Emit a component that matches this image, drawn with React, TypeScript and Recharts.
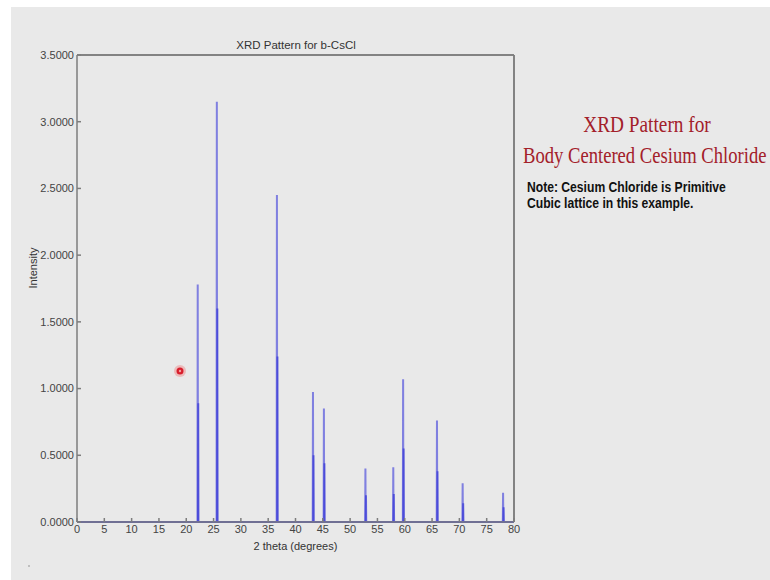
import { LineChart, Line, XAxis, YAxis, ReferenceLine } from 'recharts';

// peak positions (2 theta, degrees) and intensities
const peakTheta = [22.1, 25.6, 36.6, 43.2, 45.2, 52.8, 57.9, 59.7, 65.9, 70.6, 78.0];
const ka1Intensity = [1.78, 3.15, 2.45, 0.975, 0.85, 0.4, 0.41, 1.07, 0.76, 0.29, 0.22];
const ka2Intensity = [0.89, 1.6, 1.24, 0.5, 0.44, 0.2, 0.21, 0.55, 0.38, 0.14, 0.11];

const xTicks = [0, 5, 10, 15, 20, 25, 30, 35, 40, 45, 50, 55, 60, 65, 70, 75, 80];
const yTicks = [0, 0.5, 1.0, 1.5, 2.0, 2.5, 3.0, 3.5];

// each peak is a thin spike sitting on the zero baseline
function profile(theta: number[], heights: number[], shift: number) {
    const pts: { x: number; y: number }[] = [{ x: 0, y: 0 }];
    theta.forEach((t, i) => {
        const c = t + shift;
        pts.push({ x: c - 0.05, y: 0 });
        pts.push({ x: c, y: heights[i] });
        pts.push({ x: c + 0.05, y: 0 });
    });
    pts.push({ x: 80, y: 0 });
    return pts;
}

const ka1Data = profile(peakTheta, ka1Intensity, 0);
const ka2Data = profile(peakTheta, ka2Intensity, 0.1);

const tickFont = { fill: '#444', fontSize: 11, fontFamily: 'Liberation Sans, Arial, sans-serif' };
const frame = '#7d7d7d';

export default function App() {
    return (
        <div style={{ position: 'absolute', left: 0, top: 0, width: 770, height: 580, background: '#fff', overflow: 'hidden' }}>
            <div style={{ position: 'absolute', left: 11, top: 7, right: 0, bottom: 0, background: '#e9e9e9' }} />
            <div style={{ position: 'absolute', left: 0, top: 0 }}>
                <LineChart width={770} height={580} margin={{ top: 54, right: 255, bottom: 28, left: 17 }}>
                    <XAxis
                        type="number"
                        dataKey="x"
                        domain={[0, 80]}
                        ticks={xTicks}
                        allowDataOverflow
                        height={30}
                        tickSize={-4}
                        tickMargin={7}
                        stroke={frame}
                        strokeWidth={1.5}
                        tick={tickFont}
                        label={{ value: '2 theta (degrees)', position: 'insideBottom', offset: 2, fill: '#333', fontSize: 11, fontFamily: 'Liberation Sans, Arial, sans-serif' }}
                    />
                    <XAxis
                        xAxisId="top"
                        orientation="top"
                        type="number"
                        dataKey="x"
                        domain={[0, 80]}
                        ticks={xTicks}
                        height={1}
                        tickSize={-4}
                        tick={false}
                        stroke={frame}
                        strokeWidth={1.5}
                    />
                    <YAxis
                        type="number"
                        domain={[0, 3.5]}
                        ticks={yTicks}
                        width={60}
                        tickSize={-4}
                        tickMargin={7}
                        stroke={frame}
                        strokeWidth={1.5}
                        tick={tickFont}
                        tickFormatter={(v: number) => v.toFixed(4)}
                        label={{ value: 'Intensity', angle: -90, position: 'insideLeft', offset: 16, fill: '#333', fontSize: 11, fontFamily: 'Liberation Sans, Arial, sans-serif' }}
                    />
                    <YAxis
                        yAxisId="right"
                        orientation="right"
                        type="number"
                        domain={[0, 3.5]}
                        ticks={yTicks}
                        width={1}
                        tickSize={-4}
                        tick={false}
                        stroke={frame}
                        strokeWidth={1.5}
                    />
                    <ReferenceLine y={3.5} stroke={frame} strokeWidth={1.5} />
                    <ReferenceLine x={80} stroke={frame} strokeWidth={1.5} />
                    <Line
                        data={ka1Data}
                        dataKey="y"
                        type="linear"
                        stroke="#3b3bdb"
                        strokeOpacity={0.6}
                        strokeWidth={2}
                        dot={false}
                        isAnimationActive={false}
                    />
                    <Line
                        data={ka2Data}
                        dataKey="y"
                        type="linear"
                        stroke="#2a2ad6"
                        strokeOpacity={0.6}
                        strokeWidth={2}
                        dot={false}
                        isAnimationActive={false}
                    />
                </LineChart>
            </div>
            <svg width={770} height={580} style={{ position: 'absolute', left: 0, top: 0, pointerEvents: 'none' }}>
                <text x={296} y={49} textAnchor="middle" fontSize={11.5} fill="#333" fontFamily="Liberation Sans, Arial, sans-serif">
                    XRD Pattern for b-CsCl
                </text>
                <text transform="translate(647,132) scale(0.84,1)" textAnchor="middle" fontSize={23} fill="#a3202a" fontFamily="Liberation Serif, Times New Roman, serif">
                    XRD Pattern for
                </text>
                <text transform="translate(523,163) scale(0.81,1)" fontSize={23} fill="#a3202a" fontFamily="Liberation Serif, Times New Roman, serif">
                    Body Centered Cesium Chloride
                </text>
                <text transform="translate(527,192) scale(0.81,1)" fontSize={15} fontWeight="bold" fill="#111" fontFamily="Liberation Sans, Arial, sans-serif">
                    Note: Cesium Chloride is Primitive
                </text>
                <text transform="translate(527,208) scale(0.81,1)" fontSize={15} fontWeight="bold" fill="#111" fontFamily="Liberation Sans, Arial, sans-serif">
                    Cubic lattice in this example.
                </text>
                <circle cx={180} cy={371} r={6} fill="#f08080" fillOpacity={0.45} />
                <circle cx={180} cy={371} r={3.5} fill="#d81e2c" />
                <circle cx={180} cy={371} r={1.2} fill="#f4a0a0" />
                <circle cx={29} cy={566} r={0.8} fill="#888" />
            </svg>
        </div>
    );
}
